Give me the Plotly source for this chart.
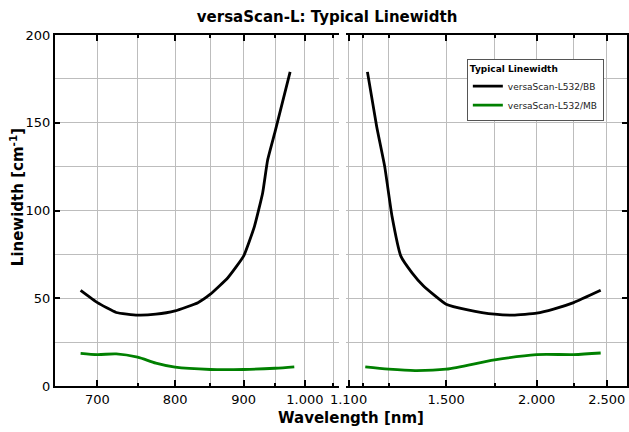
import math
import plotly.graph_objects as go

# ---- data ----
bb_left_wl = [680, 700, 723, 750, 774, 800, 832, 850, 876, 900, 917, 930, 938, 950, 975]
bb_left_val = [54.5, 47.5, 41.9, 40.4, 40.9, 42.8, 47.5, 52.3, 61.7, 74, 91, 110, 128.8, 144.8, 179]

bb_right_wl = [1168, 1203, 1234, 1263, 1299, 1346, 1396, 1500, 1607, 1750, 1857, 2000, 2111, 2250, 2452]
bb_right_val = [179, 147.7, 125, 96.7, 74, 64.5, 57, 46.6, 43.4, 40.9, 40.4, 41.5, 43.8, 47.5, 54.5]

mb_left_wl = [680, 700, 723, 750, 774, 800, 850, 900, 950, 982]
mb_left_val = [18.6, 17.9, 18.3, 16.4, 13.0, 10.7, 9.4, 9.4, 10.1, 10.9]

mb_right_wl = [1160, 1250, 1359, 1500, 1750, 2000, 2250, 2452]
mb_right_val = [10.9, 9.6, 8.8, 9.6, 14.9, 17.9, 17.9, 18.8]

left_major = [700, 800, 900, 1000]
left_major_text = ["700", "800", "900", "1.000"]
left_minor = [750, 850, 950, 1050]
right_major = [1100, 1500, 2000, 2500]
right_major_text = ["1.100", "1.500", "2.000", "2.500"]
right_minor = [1150, 1250, 1750, 2250]

series_names = ["versaScan-L532/BB", "versaScan-L532/MB"]
colors = ["black", "#008000"]

FONT = "DejaVu Sans"
GRID = "#bdbdbd"

fig = go.Figure()
fig.add_trace(go.Scatter(x=bb_left_wl, y=bb_left_val, mode="lines", name=series_names[0],
                         legendgroup="bb", line=dict(color=colors[0], width=2.8, shape="spline", smoothing=0.4),
                         xaxis="x", yaxis="y"))
fig.add_trace(go.Scatter(x=mb_left_wl, y=mb_left_val, mode="lines", name=series_names[1],
                         legendgroup="mb", line=dict(color=colors[1], width=2.8, shape="spline", smoothing=0.8),
                         xaxis="x", yaxis="y"))
fig.add_trace(go.Scatter(x=bb_right_wl, y=bb_right_val, mode="lines", name=series_names[0],
                         legendgroup="bb", showlegend=False,
                         line=dict(color=colors[0], width=2.8, shape="spline", smoothing=0.4),
                         xaxis="x2", yaxis="y2"))
fig.add_trace(go.Scatter(x=mb_right_wl, y=mb_right_val, mode="lines", name=series_names[1],
                         legendgroup="mb", showlegend=False,
                         line=dict(color=colors[1], width=2.8, shape="spline", smoothing=0.8),
                         xaxis="x2", yaxis="y2"))

common_x = dict(type="log", showline=True, linecolor="black", linewidth=2, mirror="ticks",
                ticks="inside", ticklen=6, tickwidth=2, tickcolor="black",
                showgrid=True, gridcolor=GRID, gridwidth=1, zeroline=False, automargin=False,
                tickfont=dict(family=FONT, size=13, color="black"))

fig.update_layout(
    width=629, height=432,
    margin=dict(l=55, r=2, t=35, b=46, autoexpand=False),
    paper_bgcolor="white", plot_bgcolor="white",
    font=dict(family=FONT, color="black"),
    title=dict(text="<b>versaScan-L: Typical Linewidth</b>", x=0.52, xref="container",
               xanchor="center", y=1 - 17 / 432, yanchor="middle",
               font=dict(family=FONT, size=15, color="black")),
    xaxis=dict(domain=[0, 0.4965], range=[math.log10(650.7), math.log10(1060.5)],
               tickmode="array", tickvals=left_major, ticktext=left_major_text,
               minor=dict(tickmode="array", tickvals=left_minor, ticks="inside", ticklen=3,
                          tickcolor="black", showgrid=True, gridcolor=GRID),
               anchor="y", **common_x),
    xaxis2=dict(domain=[0.5087, 1], range=[math.log10(1091), math.log10(2666)],
                tickmode="array", tickvals=right_major, ticktext=right_major_text,
                minor=dict(tickmode="array", tickvals=right_minor, ticks="inside", ticklen=3,
                           tickcolor="black", showgrid=True, gridcolor=GRID),
                anchor="y2", **common_x),
    yaxis=dict(range=[0, 200], dtick=50, anchor="x", showline=True, linecolor="black", linewidth=2,
               ticks="inside", ticklen=5, tickwidth=2, tickcolor="black", automargin=False,
               showgrid=True, gridcolor=GRID, zeroline=False,
               minor=dict(dtick=25, showgrid=True, gridcolor=GRID, ticks=""),
               tickfont=dict(family=FONT, size=13, color="black")),
    yaxis2=dict(range=[0, 200], dtick=50, anchor="x2", side="right", matches="y",
                showline=True, linecolor="black", linewidth=2, showticklabels=False,
                ticks="inside", ticklen=5, tickwidth=2, tickcolor="black", automargin=False,
                showgrid=True, gridcolor=GRID, zeroline=False,
                minor=dict(dtick=25, showgrid=True, gridcolor=GRID, ticks="")),
    legend=dict(x=0.72, y=0.932, xanchor="left", yanchor="top",
                bgcolor="white", bordercolor="#555555", borderwidth=1,
                itemwidth=30, tracegroupgap=0,
                title=dict(text="<b>Typical Linewidth</b>", font=dict(family=FONT, size=9, color="black")),
                font=dict(family=FONT, size=9, color="#222222")),
    annotations=[
        dict(text="<b>Wavelength [nm]</b>", xref="paper", yref="paper", x=0.5175, y=-0.0912,
             xanchor="center", yanchor="middle", showarrow=False,
             font=dict(family=FONT, size=15, color="black")),
        dict(text="<b>Linewidth [cm<sup>-1</sup>]</b>", xref="paper", yref="paper", x=-0.0664, y=0.538,
             xanchor="center", yanchor="middle", textangle=-90, showarrow=False,
             font=dict(family=FONT, size=15, color="black")),
    ],
)

fig.write_html(
    "out.html",
    config={"displayModeBar": False},
    post_script="document.body.style.margin='0';document.body.style.overflow='hidden';",
)
